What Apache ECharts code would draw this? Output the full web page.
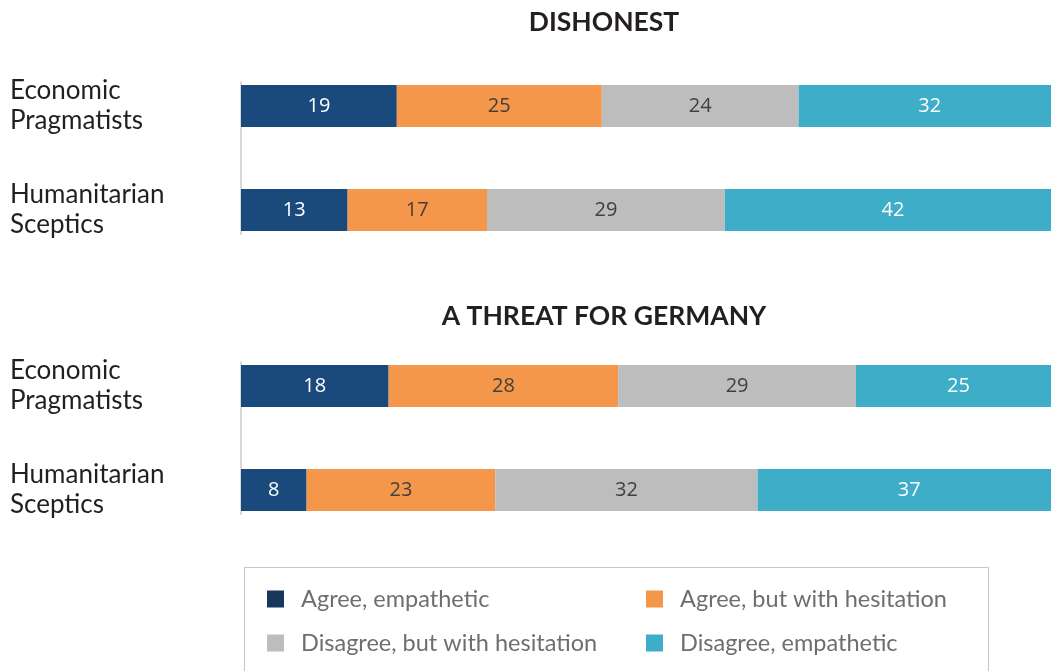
<!DOCTYPE html>
<html><head><meta charset="utf-8">
<script src="https://cdn.jsdelivr.net/npm/echarts@6/dist/echarts.min.js"></script>
<style>html,body{margin:0;padding:0;background:#fff}#c{width:1051px;height:671px}</style>
</head><body><div id="c"></div>
<script>
var categories = ['Economic\nPragmatists', 'Humanitarian\nSceptics'];
var panelTitles = ['DISHONEST', 'A THREAT FOR GERMANY'];
var seriesNames = ['Agree, empathetic', 'Agree, but with hesitation', 'Disagree, but with hesitation', 'Disagree, empathetic'];
// Panel 1: DISHONEST
var dishonestAgreeEmp = [19, 13];
var dishonestAgreeHes = [25, 17];
var dishonestDisagreeHes = [24, 29];
var dishonestDisagreeEmp = [32, 42];
// Panel 2: A THREAT FOR GERMANY
var threatAgreeEmp = [18, 8];
var threatAgreeHes = [28, 23];
var threatDisagreeHes = [29, 32];
var threatDisagreeEmp = [25, 37];

var colors = ['#1a4a7c', '#f4974a', '#bdbdbd', '#3eadc8'];
var legendColors = ['#17375e', '#f4974a', '#bdbdbd', '#3eadc8'];
var labelColors = ['#ffffff', '#404040', '#404040', '#ffffff'];
var panels = [
  [dishonestAgreeEmp, dishonestAgreeHes, dishonestDisagreeHes, dishonestDisagreeEmp],
  [threatAgreeEmp, threatAgreeHes, threatDisagreeHes, threatDisagreeEmp]
];
var FONT = 'Lato, "Open Sans", sans-serif';

var gridBase = {left: 241, width: 820, outerBoundsMode: 'none', containLabel: false};
var grids = [
  Object.assign({top: 54, height: 208}, gridBase),
  Object.assign({top: 334, height: 208}, gridBase),
  Object.assign({top: 82, height: 152}, gridBase),
  Object.assign({top: 362, height: 152}, gridBase)
];
var xAxes = [], yAxes = [], series = [];
for (var g = 0; g < 4; g++) {
  xAxes.push({type: 'value', gridIndex: g, min: 0, max: 100, show: false});
}
for (var p = 0; p < 2; p++) {
  yAxes.push({
    type: 'category', gridIndex: p, data: categories, inverse: true,
    axisLine: {show: false}, axisTick: {show: false},
    axisLabel: {align: 'left', margin: 231, fontSize: 26, lineHeight: 30, color: '#231f20', fontFamily: FONT, padding: [0, 0, 4, 0]}
  });
}
for (var p2 = 0; p2 < 2; p2++) {
  yAxes.push({
    type: 'category', gridIndex: p2 + 2, data: [''],
    axisLine: {show: true, lineStyle: {color: '#d9d9d9', width: 2}},
    axisTick: {show: false}, axisLabel: {show: false}
  });
}
panels.forEach(function (vals, p) {
  vals.forEach(function (arr, i) {
    series.push({
      type: 'bar', name: seriesNames[i], stack: 'p' + p,
      xAxisIndex: p, yAxisIndex: p, data: arr, barWidth: 42,
      itemStyle: {color: colors[i]},
      label: {show: true, position: 'inside', fontSize: 20, color: labelColors[i], fontFamily: '"Open Sans", sans-serif'},
      emphasis: {disabled: true}, animation: false
    });
  });
});

var legendText = {fontSize: 23.5, color: '#6d6e71', fontFamily: FONT, padding: [0, 0, 0, 12]};
var chart = echarts.init(document.getElementById('c'));
chart.setOption({
  animation: false,
  title: [
    {text: panelTitles[0], left: 599, top: 4, textAlign: 'center', textStyle: {fontSize: 26.5, fontWeight: 'bold', color: '#231f20', fontFamily: FONT}},
    {text: panelTitles[1], left: 599, top: 298, textAlign: 'center', textStyle: {fontSize: 26.5, fontWeight: 'bold', color: '#231f20', fontFamily: FONT}}
  ],
  grid: grids,
  xAxis: xAxes,
  yAxis: yAxes,
  legend: [
    {orient: 'vertical', left: 267, top: 587, itemWidth: 17, itemHeight: 17, itemGap: 20, padding: 0, icon: 'rect',
     data: [{name: seriesNames[0], itemStyle: {color: legendColors[0]}}, {name: seriesNames[2], itemStyle: {color: legendColors[2]}}],
     textStyle: legendText, selectedMode: false},
    {orient: 'vertical', left: 646, top: 587, itemWidth: 17, itemHeight: 17, itemGap: 20, padding: 0, icon: 'rect',
     data: [{name: seriesNames[1], itemStyle: {color: legendColors[1]}}, {name: seriesNames[3], itemStyle: {color: legendColors[3]}}],
     textStyle: legendText, selectedMode: false}
  ],
  graphic: [{type: 'rect', shape: {x: 244.5, y: 567.5, width: 744, height: 130}, style: {fill: 'none', stroke: '#c6c6c6', lineWidth: 1}, silent: true}],
  series: series
});
</script>
</body></html>
